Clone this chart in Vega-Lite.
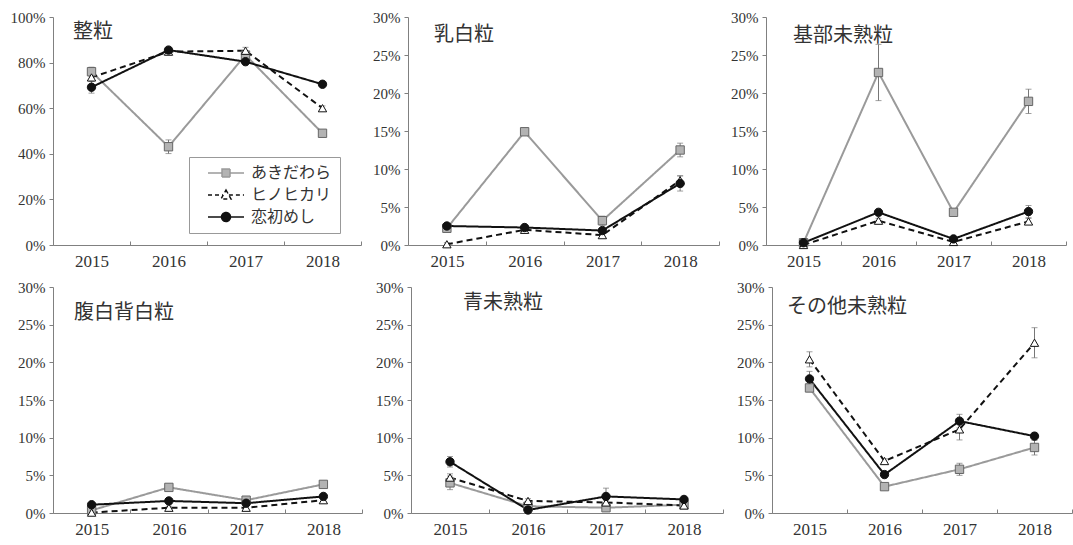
{
  "$schema": "https://vega.github.io/schema/vega-lite/v6.json",
  "padding": {"left": 10, "top": 10, "right": 0, "bottom": 0},
  "background": "#ffffff",
  "data": {
    "values": [
      {"kind": "整粒", "year": 2015, "variety": "あきだわら", "pct": 76.0, "err": 2.0},
      {"kind": "整粒", "year": 2016, "variety": "あきだわら", "pct": 43.1, "err": 3.0},
      {"kind": "整粒", "year": 2017, "variety": "あきだわら", "pct": 83.3, "err": 2.0},
      {"kind": "整粒", "year": 2018, "variety": "あきだわら", "pct": 49.0, "err": 1.0},
      {"kind": "整粒", "year": 2015, "variety": "ヒノヒカリ", "pct": 73.5, "err": 1.5},
      {"kind": "整粒", "year": 2016, "variety": "ヒノヒカリ", "pct": 84.8, "err": 1.0},
      {"kind": "整粒", "year": 2017, "variety": "ヒノヒカリ", "pct": 85.2, "err": 1.5},
      {"kind": "整粒", "year": 2018, "variety": "ヒノヒカリ", "pct": 60.0, "err": 1.0},
      {"kind": "整粒", "year": 2015, "variety": "恋初めし", "pct": 69.2, "err": 2.6},
      {"kind": "整粒", "year": 2016, "variety": "恋初めし", "pct": 85.5, "err": 1.0},
      {"kind": "整粒", "year": 2017, "variety": "恋初めし", "pct": 80.4, "err": 1.0},
      {"kind": "整粒", "year": 2018, "variety": "恋初めし", "pct": 70.5, "err": 1.0},

      {"kind": "乳白粒", "year": 2015, "variety": "あきだわら", "pct": 2.2, "err": 0.5},
      {"kind": "乳白粒", "year": 2016, "variety": "あきだわら", "pct": 14.9, "err": 0.3},
      {"kind": "乳白粒", "year": 2017, "variety": "あきだわら", "pct": 3.2, "err": 0.6},
      {"kind": "乳白粒", "year": 2018, "variety": "あきだわら", "pct": 12.5, "err": 0.9},
      {"kind": "乳白粒", "year": 2015, "variety": "ヒノヒカリ", "pct": 0.1, "err": 0.2},
      {"kind": "乳白粒", "year": 2016, "variety": "ヒノヒカリ", "pct": 2.0, "err": 0.3},
      {"kind": "乳白粒", "year": 2017, "variety": "ヒノヒカリ", "pct": 1.3, "err": 0.3},
      {"kind": "乳白粒", "year": 2018, "variety": "ヒノヒカリ", "pct": 8.5, "err": 0.6},
      {"kind": "乳白粒", "year": 2015, "variety": "恋初めし", "pct": 2.5, "err": 0.3},
      {"kind": "乳白粒", "year": 2016, "variety": "恋初めし", "pct": 2.3, "err": 0.3},
      {"kind": "乳白粒", "year": 2017, "variety": "恋初めし", "pct": 1.9, "err": 0.3},
      {"kind": "乳白粒", "year": 2018, "variety": "恋初めし", "pct": 8.1, "err": 1.0},

      {"kind": "基部未熟粒", "year": 2015, "variety": "あきだわら", "pct": 0.3, "err": 0.1},
      {"kind": "基部未熟粒", "year": 2016, "variety": "あきだわら", "pct": 22.7, "err": 3.7},
      {"kind": "基部未熟粒", "year": 2017, "variety": "あきだわら", "pct": 4.3, "err": 0.3},
      {"kind": "基部未熟粒", "year": 2018, "variety": "あきだわら", "pct": 18.9, "err": 1.6},
      {"kind": "基部未熟粒", "year": 2015, "variety": "ヒノヒカリ", "pct": 0.0, "err": 0.1},
      {"kind": "基部未熟粒", "year": 2016, "variety": "ヒノヒカリ", "pct": 3.2, "err": 0.3},
      {"kind": "基部未熟粒", "year": 2017, "variety": "ヒノヒカリ", "pct": 0.4, "err": 0.2},
      {"kind": "基部未熟粒", "year": 2018, "variety": "ヒノヒカリ", "pct": 3.1, "err": 0.4},
      {"kind": "基部未熟粒", "year": 2015, "variety": "恋初めし", "pct": 0.3, "err": 0.1},
      {"kind": "基部未熟粒", "year": 2016, "variety": "恋初めし", "pct": 4.3, "err": 0.3},
      {"kind": "基部未熟粒", "year": 2017, "variety": "恋初めし", "pct": 0.8, "err": 0.2},
      {"kind": "基部未熟粒", "year": 2018, "variety": "恋初めし", "pct": 4.4, "err": 0.8},

      {"kind": "腹白背白粒", "year": 2015, "variety": "あきだわら", "pct": 0.35, "err": 0.2},
      {"kind": "腹白背白粒", "year": 2016, "variety": "あきだわら", "pct": 3.4, "err": 0.3},
      {"kind": "腹白背白粒", "year": 2017, "variety": "あきだわら", "pct": 1.7, "err": 0.3},
      {"kind": "腹白背白粒", "year": 2018, "variety": "あきだわら", "pct": 3.8, "err": 0.3},
      {"kind": "腹白背白粒", "year": 2015, "variety": "ヒノヒカリ", "pct": 0.05, "err": 0.1},
      {"kind": "腹白背白粒", "year": 2016, "variety": "ヒノヒカリ", "pct": 0.7, "err": 0.2},
      {"kind": "腹白背白粒", "year": 2017, "variety": "ヒノヒカリ", "pct": 0.7, "err": 0.2},
      {"kind": "腹白背白粒", "year": 2018, "variety": "ヒノヒカリ", "pct": 1.7, "err": 0.3},
      {"kind": "腹白背白粒", "year": 2015, "variety": "恋初めし", "pct": 1.1, "err": 0.3},
      {"kind": "腹白背白粒", "year": 2016, "variety": "恋初めし", "pct": 1.6, "err": 0.3},
      {"kind": "腹白背白粒", "year": 2017, "variety": "恋初めし", "pct": 1.3, "err": 0.3},
      {"kind": "腹白背白粒", "year": 2018, "variety": "恋初めし", "pct": 2.2, "err": 0.3},

      {"kind": "青未熟粒", "year": 2015, "variety": "あきだわら", "pct": 4.0, "err": 0.9},
      {"kind": "青未熟粒", "year": 2016, "variety": "あきだわら", "pct": 0.9, "err": 0.2},
      {"kind": "青未熟粒", "year": 2017, "variety": "あきだわら", "pct": 0.7, "err": 0.3},
      {"kind": "青未熟粒", "year": 2018, "variety": "あきだわら", "pct": 1.1, "err": 0.2},
      {"kind": "青未熟粒", "year": 2015, "variety": "ヒノヒカリ", "pct": 4.7, "err": 0.5},
      {"kind": "青未熟粒", "year": 2016, "variety": "ヒノヒカリ", "pct": 1.6, "err": 0.3},
      {"kind": "青未熟粒", "year": 2017, "variety": "ヒノヒカリ", "pct": 1.4, "err": 0.3},
      {"kind": "青未熟粒", "year": 2018, "variety": "ヒノヒカリ", "pct": 1.0, "err": 0.2},
      {"kind": "青未熟粒", "year": 2015, "variety": "恋初めし", "pct": 6.8, "err": 0.7},
      {"kind": "青未熟粒", "year": 2016, "variety": "恋初めし", "pct": 0.4, "err": 0.2},
      {"kind": "青未熟粒", "year": 2017, "variety": "恋初めし", "pct": 2.2, "err": 1.1},
      {"kind": "青未熟粒", "year": 2018, "variety": "恋初めし", "pct": 1.8, "err": 0.3},

      {"kind": "その他未熟粒", "year": 2015, "variety": "あきだわら", "pct": 16.6, "err": 0.5},
      {"kind": "その他未熟粒", "year": 2016, "variety": "あきだわら", "pct": 3.5, "err": 0.3},
      {"kind": "その他未熟粒", "year": 2017, "variety": "あきだわら", "pct": 5.8, "err": 0.8},
      {"kind": "その他未熟粒", "year": 2018, "variety": "あきだわら", "pct": 8.7, "err": 1.0},
      {"kind": "その他未熟粒", "year": 2015, "variety": "ヒノヒカリ", "pct": 20.4, "err": 1.0},
      {"kind": "その他未熟粒", "year": 2016, "variety": "ヒノヒカリ", "pct": 6.9, "err": 0.3},
      {"kind": "その他未熟粒", "year": 2017, "variety": "ヒノヒカリ", "pct": 11.1, "err": 1.4},
      {"kind": "その他未熟粒", "year": 2018, "variety": "ヒノヒカリ", "pct": 22.6, "err": 2.0},
      {"kind": "その他未熟粒", "year": 2015, "variety": "恋初めし", "pct": 17.8, "err": 1.0},
      {"kind": "その他未熟粒", "year": 2016, "variety": "恋初めし", "pct": 5.1, "err": 0.3},
      {"kind": "その他未熟粒", "year": 2017, "variety": "恋初めし", "pct": 12.2, "err": 0.9},
      {"kind": "その他未熟粒", "year": 2018, "variety": "恋初めし", "pct": 10.2, "err": 0.5}
    ]
  },
  "vconcat": [
    {
      "hconcat": [
        {
          "width": 308, "height": 228,
          "title": {"text": "整粒", "dx": 20, "offset": -32},
          "transform": [{"filter": "datum.kind === '整粒'"}],
          "encoding": {
            "x": {"field": "year", "type": "ordinal", "scale": {"type": "band", "paddingInner": 0, "paddingOuter": 0}, "axis": {"title": null}},
            "y": {"field": "pct", "type": "quantitative", "scale": {"domain": [0, 100], "nice": false}, "axis": {"title": null, "values": [0, 20, 40, 60, 80, 100]}}
          },
          "layer": [
            {"mark": {"type": "errorbar", "ticks": {"size": 6}, "color": "#777777", "thickness": 1}, "encoding": {"yError": {"field": "err"}}},
            {"mark": {"type": "line", "strokeWidth": 2},
             "encoding": {
               "color": {"field": "variety", "type": "nominal", "scale": {"domain": ["あきだわら", "ヒノヒカリ", "恋初めし"], "range": ["#9a9a9a", "#111111", "#111111"]},
                 "legend": {"orient": "none", "legendX": 136, "legendY": 140, "title": null, "padding": 8, "strokeColor": "#999999", "fillColor": "#ffffff",
                   "labelFont": "Noto Sans CJK JP", "labelFontSize": 16, "labelColor": "#333333", "rowPadding": 6, "symbolSize": 100, "symbolStrokeWidth": 1.5, "labelOffset": 17, "symbolOffset": 21,
                   "encode": {"symbols": {"update": {
                     "shape": {"signal": "datum.value === 'あきだわら' ? 'M-3.6,0H-0.8M0.8,0H3.6M-0.8,-0.8H0.8V0.8H-0.8Z' : (datum.value === 'ヒノヒカリ' ? 'M-3.6,0H-0.58M0.58,0H3.6M0,-1L1,0.8H-1Z' : 'M-3.6,0H-0.9M0.9,0H3.6M0.9,0A0.9,0.9 0 1 1 -0.9,0A0.9,0.9 0 1 1 0.9,0Z')"},
                     "fill": {"signal": "datum.value === 'あきだわら' ? '#b3b3b3' : (datum.value === 'ヒノヒカリ' ? '#ffffff' : '#111111')"},
                     "strokeDash": {"signal": "datum.value === 'ヒノヒカリ' ? [4, 3] : [1, 0]"}
                   }}}}},
               "strokeDash": {"field": "variety", "type": "nominal", "scale": {"domain": ["あきだわら", "ヒノヒカリ", "恋初めし"], "range": [[1, 0], [6, 4], [1, 0]]}, "legend": null}
             }},
            {"mark": {"type": "point", "size": 70, "opacity": 1, "strokeWidth": 1},
             "encoding": {
               "shape": {"field": "variety", "type": "nominal", "scale": {"domain": ["あきだわら", "ヒノヒカリ", "恋初めし"], "range": ["square", "triangle-up", "circle"]}, "legend": null},
               "fill": {"field": "variety", "type": "nominal", "scale": {"domain": ["あきだわら", "ヒノヒカリ", "恋初めし"], "range": ["#b3b3b3", "#ffffff", "#111111"]}, "legend": null},
               "stroke": {"field": "variety", "type": "nominal", "scale": {"domain": ["あきだわら", "ヒノヒカリ", "恋初めし"], "range": ["#666666", "#111111", "#111111"]}, "legend": null}
             }}
          ]
        },
        {
          "width": 311, "height": 228,
          "title": {"text": "乳白粒", "dx": 26, "offset": -35},
          "transform": [{"filter": "datum.kind === '乳白粒'"}],
          "encoding": {
            "x": {"field": "year", "type": "ordinal", "scale": {"type": "band", "paddingInner": 0, "paddingOuter": 0}, "axis": {"title": null}},
            "y": {"field": "pct", "type": "quantitative", "scale": {"domain": [0, 30], "nice": false}, "axis": {"title": null, "values": [0, 5, 10, 15, 20, 25, 30]}}
          },
          "layer": [
            {"mark": {"type": "errorbar", "ticks": {"size": 6}, "color": "#777777", "thickness": 1}, "encoding": {"yError": {"field": "err"}}},
            {"mark": {"type": "line", "strokeWidth": 2},
             "encoding": {
               "color": {"field": "variety", "type": "nominal", "scale": {"domain": ["あきだわら", "ヒノヒカリ", "恋初めし"], "range": ["#9a9a9a", "#111111", "#111111"]}, "legend": null},
               "strokeDash": {"field": "variety", "type": "nominal", "scale": {"domain": ["あきだわら", "ヒノヒカリ", "恋初めし"], "range": [[1, 0], [6, 4], [1, 0]]}, "legend": null}
             }},
            {"mark": {"type": "point", "size": 70, "opacity": 1, "strokeWidth": 1},
             "encoding": {
               "shape": {"field": "variety", "type": "nominal", "scale": {"domain": ["あきだわら", "ヒノヒカリ", "恋初めし"], "range": ["square", "triangle-up", "circle"]}, "legend": null},
               "fill": {"field": "variety", "type": "nominal", "scale": {"domain": ["あきだわら", "ヒノヒカリ", "恋初めし"], "range": ["#b3b3b3", "#ffffff", "#111111"]}, "legend": null},
               "stroke": {"field": "variety", "type": "nominal", "scale": {"domain": ["あきだわら", "ヒノヒカリ", "恋初めし"], "range": ["#666666", "#111111", "#111111"]}, "legend": null}
             }}
          ]
        },
        {
          "width": 300, "height": 228,
          "title": {"text": "基部未熟粒", "dx": 27, "offset": -36},
          "transform": [{"filter": "datum.kind === '基部未熟粒'"}],
          "encoding": {
            "x": {"field": "year", "type": "ordinal", "scale": {"type": "band", "paddingInner": 0, "paddingOuter": 0}, "axis": {"title": null}},
            "y": {"field": "pct", "type": "quantitative", "scale": {"domain": [0, 30], "nice": false}, "axis": {"title": null, "values": [0, 5, 10, 15, 20, 25, 30]}}
          },
          "layer": [
            {"mark": {"type": "errorbar", "ticks": {"size": 6}, "color": "#777777", "thickness": 1}, "encoding": {"yError": {"field": "err"}}},
            {"mark": {"type": "line", "strokeWidth": 2},
             "encoding": {
               "color": {"field": "variety", "type": "nominal", "scale": {"domain": ["あきだわら", "ヒノヒカリ", "恋初めし"], "range": ["#9a9a9a", "#111111", "#111111"]}, "legend": null},
               "strokeDash": {"field": "variety", "type": "nominal", "scale": {"domain": ["あきだわら", "ヒノヒカリ", "恋初めし"], "range": [[1, 0], [6, 4], [1, 0]]}, "legend": null}
             }},
            {"mark": {"type": "point", "size": 70, "opacity": 1, "strokeWidth": 1},
             "encoding": {
               "shape": {"field": "variety", "type": "nominal", "scale": {"domain": ["あきだわら", "ヒノヒカリ", "恋初めし"], "range": ["square", "triangle-up", "circle"]}, "legend": null},
               "fill": {"field": "variety", "type": "nominal", "scale": {"domain": ["あきだわら", "ヒノヒカリ", "恋初めし"], "range": ["#b3b3b3", "#ffffff", "#111111"]}, "legend": null},
               "stroke": {"field": "variety", "type": "nominal", "scale": {"domain": ["あきだわら", "ヒノヒカリ", "恋初めし"], "range": ["#666666", "#111111", "#111111"]}, "legend": null}
             }}
          ]
        }
      ],
      "spacing": 47,
      "bounds": "flush",
      "resolve": {"legend": {"color": "independent"}}
    },
    {
      "hconcat": [
        {
          "width": 309, "height": 226,
          "title": {"text": "腹白背白粒", "dx": 21, "offset": -43},
          "transform": [{"filter": "datum.kind === '腹白背白粒'"}],
          "encoding": {
            "x": {"field": "year", "type": "ordinal", "scale": {"type": "band", "paddingInner": 0, "paddingOuter": 0}, "axis": {"title": null}},
            "y": {"field": "pct", "type": "quantitative", "scale": {"domain": [0, 30], "nice": false}, "axis": {"title": null, "values": [0, 5, 10, 15, 20, 25, 30]}}
          },
          "layer": [
            {"mark": {"type": "errorbar", "ticks": {"size": 6}, "color": "#777777", "thickness": 1}, "encoding": {"yError": {"field": "err"}}},
            {"mark": {"type": "line", "strokeWidth": 2},
             "encoding": {
               "color": {"field": "variety", "type": "nominal", "scale": {"domain": ["あきだわら", "ヒノヒカリ", "恋初めし"], "range": ["#9a9a9a", "#111111", "#111111"]}, "legend": null},
               "strokeDash": {"field": "variety", "type": "nominal", "scale": {"domain": ["あきだわら", "ヒノヒカリ", "恋初めし"], "range": [[1, 0], [6, 4], [1, 0]]}, "legend": null}
             }},
            {"mark": {"type": "point", "size": 70, "opacity": 1, "strokeWidth": 1},
             "encoding": {
               "shape": {"field": "variety", "type": "nominal", "scale": {"domain": ["あきだわら", "ヒノヒカリ", "恋初めし"], "range": ["square", "triangle-up", "circle"]}, "legend": null},
               "fill": {"field": "variety", "type": "nominal", "scale": {"domain": ["あきだわら", "ヒノヒカリ", "恋初めし"], "range": ["#b3b3b3", "#ffffff", "#111111"]}, "legend": null},
               "stroke": {"field": "variety", "type": "nominal", "scale": {"domain": ["あきだわら", "ヒノヒカリ", "恋初めし"], "range": ["#666666", "#111111", "#111111"]}, "legend": null}
             }}
          ]
        },
        {
          "width": 312, "height": 226,
          "title": {"text": "青未熟粒", "dx": 52, "offset": -33},
          "transform": [{"filter": "datum.kind === '青未熟粒'"}],
          "encoding": {
            "x": {"field": "year", "type": "ordinal", "scale": {"type": "band", "paddingInner": 0, "paddingOuter": 0}, "axis": {"title": null}},
            "y": {"field": "pct", "type": "quantitative", "scale": {"domain": [0, 30], "nice": false}, "axis": {"title": null, "values": [0, 5, 10, 15, 20, 25, 30]}}
          },
          "layer": [
            {"mark": {"type": "errorbar", "ticks": {"size": 6}, "color": "#777777", "thickness": 1}, "encoding": {"yError": {"field": "err"}}},
            {"mark": {"type": "line", "strokeWidth": 2},
             "encoding": {
               "color": {"field": "variety", "type": "nominal", "scale": {"domain": ["あきだわら", "ヒノヒカリ", "恋初めし"], "range": ["#9a9a9a", "#111111", "#111111"]}, "legend": null},
               "strokeDash": {"field": "variety", "type": "nominal", "scale": {"domain": ["あきだわら", "ヒノヒカリ", "恋初めし"], "range": [[1, 0], [6, 4], [1, 0]]}, "legend": null}
             }},
            {"mark": {"type": "point", "size": 70, "opacity": 1, "strokeWidth": 1},
             "encoding": {
               "shape": {"field": "variety", "type": "nominal", "scale": {"domain": ["あきだわら", "ヒノヒカリ", "恋初めし"], "range": ["square", "triangle-up", "circle"]}, "legend": null},
               "fill": {"field": "variety", "type": "nominal", "scale": {"domain": ["あきだわら", "ヒノヒカリ", "恋初めし"], "range": ["#b3b3b3", "#ffffff", "#111111"]}, "legend": null},
               "stroke": {"field": "variety", "type": "nominal", "scale": {"domain": ["あきだわら", "ヒノヒカリ", "恋初めし"], "range": ["#666666", "#111111", "#111111"]}, "legend": null}
             }}
          ]
        },
        {
          "width": 300, "height": 226,
          "title": {"text": "その他未熟粒", "dx": 15, "offset": -37},
          "transform": [{"filter": "datum.kind === 'その他未熟粒'"}],
          "encoding": {
            "x": {"field": "year", "type": "ordinal", "scale": {"type": "band", "paddingInner": 0, "paddingOuter": 0}, "axis": {"title": null}},
            "y": {"field": "pct", "type": "quantitative", "scale": {"domain": [0, 30], "nice": false}, "axis": {"title": null, "values": [0, 5, 10, 15, 20, 25, 30]}}
          },
          "layer": [
            {"mark": {"type": "errorbar", "ticks": {"size": 6}, "color": "#777777", "thickness": 1}, "encoding": {"yError": {"field": "err"}}},
            {"mark": {"type": "line", "strokeWidth": 2},
             "encoding": {
               "color": {"field": "variety", "type": "nominal", "scale": {"domain": ["あきだわら", "ヒノヒカリ", "恋初めし"], "range": ["#9a9a9a", "#111111", "#111111"]}, "legend": null},
               "strokeDash": {"field": "variety", "type": "nominal", "scale": {"domain": ["あきだわら", "ヒノヒカリ", "恋初めし"], "range": [[1, 0], [6, 4], [1, 0]]}, "legend": null}
             }},
            {"mark": {"type": "point", "size": 70, "opacity": 1, "strokeWidth": 1},
             "encoding": {
               "shape": {"field": "variety", "type": "nominal", "scale": {"domain": ["あきだわら", "ヒノヒカリ", "恋初めし"], "range": ["square", "triangle-up", "circle"]}, "legend": null},
               "fill": {"field": "variety", "type": "nominal", "scale": {"domain": ["あきだわら", "ヒノヒカリ", "恋初めし"], "range": ["#b3b3b3", "#ffffff", "#111111"]}, "legend": null},
               "stroke": {"field": "variety", "type": "nominal", "scale": {"domain": ["あきだわら", "ヒノヒカリ", "恋初めし"], "range": ["#666666", "#111111", "#111111"]}, "legend": null}
             }}
          ]
        }
      ],
      "spacing": 49,
      "bounds": "flush",
      "resolve": {"legend": {"color": "independent"}}
    }
  ],
  "spacing": 11,
  "bounds": "full",
  "resolve": {"legend": {"color": "independent"}},
  "config": {
    "view": {"stroke": null},
    "title": {"font": "Noto Sans CJK JP", "fontSize": 20, "fontWeight": "normal", "color": "#333333", "anchor": "start", "frame": "group", "baseline": "top"},
    "axis": {"grid": false, "domainColor": "#808080", "tickColor": "#808080", "labelColor": "#333333", "labelFont": "Liberation Serif"},
    "axisX": {"labelAngle": 0, "tickBand": "extent", "tickSize": -4, "labelPadding": 12, "labelFontSize": 17},
    "axisY": {"tickSize": 4, "labelPadding": 4, "labelFontSize": 15, "labelExpr": "datum.value + '%'"}
  }
}
